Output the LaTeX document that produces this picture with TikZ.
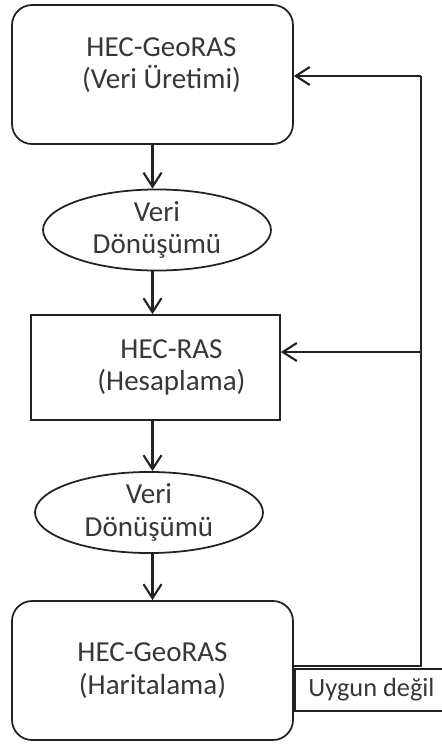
\documentclass[tikz,border=0pt]{standalone}
\usepackage{fontspec}
\setmainfont{Carlito}
\usetikzlibrary{arrows.meta, positioning, shapes.geometric}
\definecolor{fline}{HTML}{222222}
\definecolor{ftext}{HTML}{343934}

\begin{document}
\begin{tikzpicture}[x=0.02cm, y=-0.02cm,
  flowtxt/.style={font=\fontsize{16.5}{18.5}\selectfont, text=ftext, align=center},
  softbox/.style={draw=fline, line width=1pt, rounded corners=0.4cm, minimum width=5.62cm, minimum height=2.78cm, inner sep=0pt, flowtxt},
  calcbox/.style={draw=fline, line width=1pt, minimum width=4.98cm, minimum height=2.1cm, inner sep=0pt},
  convell/.style={draw=fline, line width=1pt, ellipse, minimum width=4.56cm, minimum height=1.58cm, inner sep=0pt, flowtxt},
  arr/.style={draw=fline, line width=1.2pt, -{Straight Barb[length=0.28cm, width=0.36cm, line width=1.2pt]}}
]

  %% Frame (size of the source image, in px)
  \useasboundingbox (0,0) rectangle (442,744);
  \clip (0,0) rectangle (442,744);

  %% Main chain
  \node[softbox, label={[flowtxt, xshift=0.18cm, yshift=0.19cm]center:HEC-GeoRAS\\(Veri Üretimi)}] (gen) at (152.5,74.5) {};
  \node[convell] (conv1) at (157,230) {Veri\\Dönüşümü};
  \node[calcbox, label={[flowtxt, xshift=0.32cm]center:HEC-RAS\\(Hesaplama)}] (calc) at (155.5,367.5) {};
  \node[convell] (conv2) at (149,512.5) {Veri\\Dönüşümü};
  \node[softbox] (map) at (152.5,670.5) {HEC-GeoRAS\\(Haritalama)};

  \draw[arr] (gen.south) -- (gen.south |- conv1.north);
  \draw[arr] (gen.south |- conv1.south) -- (gen.south |- calc.north);
  \draw[arr] (gen.south |- calc.south) -- (gen.south |- conv2.north);
  \draw[arr] (gen.south |- conv2.south) -- (map.north);

  %% Feedback loop
  \node[draw=fline, line width=1pt, flowtxt, font=\fontsize{15}{17}\selectfont, minimum width=3.06cm, minimum height=0.84cm, inner sep=0pt] (nofit) at (371.5,690) {Uygun değil};
  \coordinate (loopbot) at (421,666);
  \coordinate (looptop) at (421,76);
  \coordinate (loopmid) at (421,352);
  \draw[fline, line width=1.2pt] (map.east |- loopbot) -- (loopbot) -- (looptop);
  \draw[arr] (looptop) -- (looptop -| gen.east);
  \draw[arr] (loopmid) -- (loopmid -| calc.east);

\end{tikzpicture}
\end{document}
